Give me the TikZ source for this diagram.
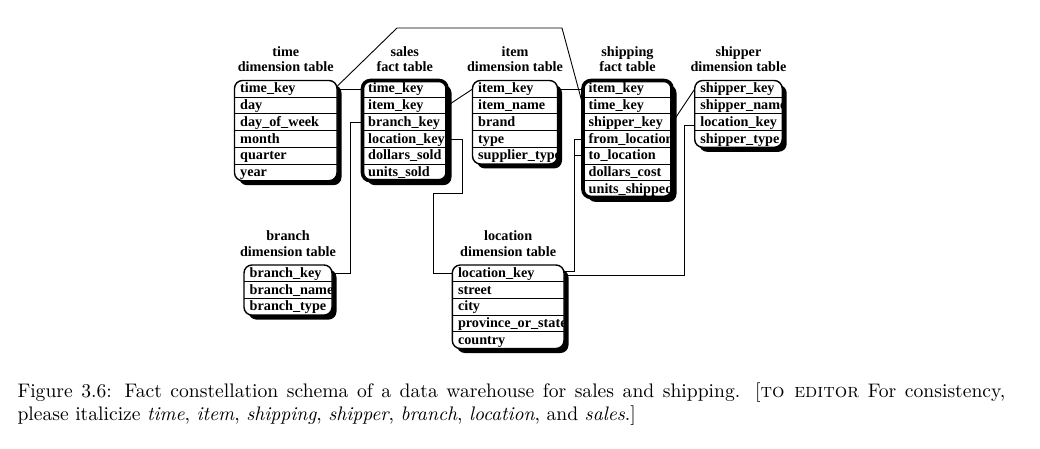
\documentclass[tikz,border=0pt]{standalone}
\usepackage{fontspec}
\usepackage{graphicx}
\newfontfamily\tfont{Liberation Serif}
\tikzset{
  cell/.style={font=\tfont\bfseries\fontsize{14.2}{15.6}\selectfont, inner xsep=5.5pt, inner ysep=0pt,
               text height=12.3pt, text depth=4.4pt},
  ttl/.style={font=\tfont\bfseries\fontsize{14.2}{15.6}\selectfont, align=center, inner sep=0pt},
  rowsep/.style={line width=0.8pt},
  dimb/.style={line width=1.4pt},
  factb/.style={line width=3.6pt},
  shadowfill/.style={fill=black},
  conn/.style={line width=0.9pt},
  capt/.style={anchor=base west, inner sep=0pt}
}
% #1 name, #2 x, #3 y, #4 w, #5 rows, #6 title, #7 row list, #8 border style
\newcommand\dbtable[8]{%
  \pgfmathsetmacro\tbot{#3+#5*16.7}%
  \pgfmathsetmacro\tright{#2+#4}%
  \pgfmathsetlengthmacro\tw{#4-11}%
  \fill[shadowfill, rounded corners=8pt] (#2+4.5,#3+4.5) rectangle (\tright+4.5,\tbot+4.5);
  \fill[white, rounded corners=8pt] (#2,#3) rectangle (\tright,\tbot);
  \begin{scope}
    \clip[rounded corners=8pt] (#2,#3) rectangle (\tright,\tbot);
    \foreach \r [count=\i] in {#7} {
      \node[cell, anchor=north west] (#1-\i) at (#2,{#3+(\i-1)*16.7}) {\makebox[\tw][l]{\r}};
      \ifnum\i>1 \draw[rowsep] (#2,{#3+(\i-1)*16.7}) -- (\tright,{#3+(\i-1)*16.7});\fi
    }
  \end{scope}
  \draw[#8, rounded corners=8pt] (#2,#3) rectangle (\tright,\tbot);
  \node[ttl, anchor=south] (#1-t) at ({#2+#4/2},#3-8.2) {#6};
}
\begin{document}
\begin{tikzpicture}[x=1pt,y=-1pt]
\path[use as bounding box] (0,0) rectangle (1040,449);

\dbtable{time}{234.5}{80.5}{102.5}{6}{time\\dimension table}{time\_key,day,day\_of\_week,month,quarter,year}{dimb}
\dbtable{sales}{362.5}{80.5}{84.5}{6}{sales\\fact table}{time\_key,item\_key,branch\_key,location\_key,dollars\_sold,units\_sold}{factb}
\dbtable{item}{472.5}{80.5}{85}{5}{item\\dimension table}{item\_key,item\_name,brand,type,supplier\_type}{dimb}
\dbtable{shipping}{583}{80.5}{89}{7}{shipping\\fact table}{item\_key,time\_key,shipper\_key,from\_location,to\_location,dollars\_cost,units\_shipped}{factb}
\dbtable{shipper}{694.7}{80.5}{87.5}{4}{shipper\\dimension table}{shipper\_key,shipper\_name,location\_key,shipper\_type}{dimb}
\dbtable{branch}{244}{265}{88}{3}{branch\\dimension table}{branch\_key,branch\_name,branch\_type}{dimb}
\dbtable{location}{452.3}{265}{111.7}{5}{location\\dimension table}{location\_key,street,city,province\_or\_state,country}{dimb}

% connectors
\draw[conn] (time-1.east) -- (sales-1.west);
\draw[conn] ([yshift=3pt]time-1.east) -- (397,28) -- (562,28) -- (shipping-2.west);
\draw[conn] (sales-2.east) -- (item-1.west);
\draw[conn] (item-1.east) -- (shipping-1.west);
\draw[conn] (shipping-3.east) -- (shipper-1.west);
\draw[conn] (sales-3.west) -- ++(-12.5,0) |- (branch-1.east);
\draw[conn] (sales-4.east) -- ++(15,0) |- (433,193) |- (location-1.west);
\draw[conn] (shipping-4.west) -- ++(-9,0) |- ([yshift=2pt]location-1.east);
\draw[conn] (shipping-5.west) -- ++(-9,0);
\draw[conn] ([yshift=-3pt]shipper-3.west) -- ++(-10.7,0) |- ([yshift=-1.5pt]location-1.east);

% caption
\node[capt] (cap1) at (17.3,397) {\scalebox{1.96}{\fontsize{10}{12}\selectfont\hbox to 504pt{Figure 3.6: Fact constellation schema of a data warehouse for sales and shipping. [\textsc{to editor} For consistency,}}};
\node[capt] (cap2) at (17.3,420) {\scalebox{1.96}{\fontsize{10}{12}\selectfont please italicize \textit{time}, \textit{item}, \textit{shipping}, \textit{shipper}, \textit{branch}, \textit{location}, and \textit{sales}.]}};
\end{tikzpicture}
\end{document}
